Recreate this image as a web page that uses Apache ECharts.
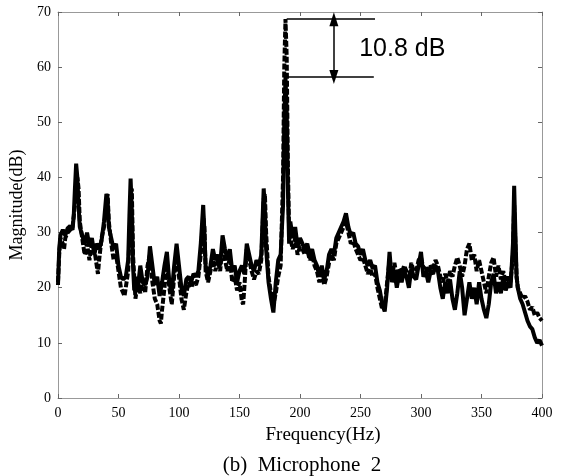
<!DOCTYPE html>
<html style="height: 100%">
<head>
    <meta charset="UTF-8" />
    <title>Microphone 2</title>
    <script src="https://cdn.jsdelivr.net/npm/echarts@6/dist/echarts.min.js"></script>
</head>
<body style="height: 100%; margin: 0; background: #fff">
    <div id="main" style="width: 563px; height: 476px"></div>
    <script type="text/javascript">
        // spectrum readings, [frequency Hz, magnitude dB]
        var solidSpec = [[0,20.5],[1,27],[2,29.5],[4,30.5],[6,29.5],[8,30.8],[10,31.2],[12,30.5],[13,33],[14,38],[15,42.5],[16,40],[17,35],[18,31],[20,29.5],[22,28],[24,30],[26,27.5],[28,29],[30,26],[32,28],[34,27],[36,28.5],[38,32],[40,37],[41,36],[42,31],[44,29],[46,27],[48,28],[50,24],[52,22],[54,21.5],[56,22],[58,25],[59,33],[60,39.8],[61,34],[62,24],[63,19.5],[64,22],[66,20],[68,24],[70,21],[72,20.5],[74,22],[76,27.5],[78,24],[80,20.5],[82,22],[84,18.5],[86,21],[88,24],[90,26.5],[92,21],[94,19],[96,24],[98,28],[100,24],[102,20],[104,18.5],[106,21.5],[108,22],[110,21],[112,22.5],[114,22],[116,23],[118,28],[120,35],[121,30],[122,24],[124,22],[126,24],[128,27],[130,25],[132,26],[134,24],[136,29.5],[138,27],[140,25],[142,27],[144,23],[146,24],[148,21],[150,23],[152,24],[154,22.5],[156,28],[158,26],[160,24],[162,23],[164,25],[166,24],[168,26],[170,38],[171,34],[172,27],[174,21],[176,18],[178,15.5],[180,21],[182,25],[184,26],[186,35],[187,50],[188,58.2],[189,52],[190,38],[191,28],[192,32],[194,29],[196,31],[198,27.5],[200,29],[202,28],[204,27],[206,28],[208,26],[210,27],[212,25],[214,24],[216,22],[218,24],[220,21.5],[222,23],[224,26],[226,27],[228,26],[230,29],[232,30],[234,31],[236,32],[238,33.5],[240,31],[242,29.5],[244,30],[246,28],[248,27.5],[250,26],[252,27],[254,25],[256,24],[258,25],[260,23.5],[262,24],[264,21],[266,19.5],[268,17],[270,15.7],[272,20],[274,26.5],[276,21],[278,23],[280,20],[282,22.5],[284,21],[286,23],[288,22],[290,20],[292,23.5],[294,22],[296,21.5],[298,24],[300,26.5],[302,22],[304,23],[306,21],[308,23],[310,22.5],[312,24],[314,23],[316,20],[318,18],[320,21],[322,19],[324,21.5],[326,18],[328,16],[330,19],[332,23],[334,20],[336,15],[338,18],[340,21],[342,18],[344,20],[346,17],[348,21],[350,18],[352,16],[354,14.5],[356,17],[358,21],[360,22.5],[362,19],[364,21],[366,19],[368,22],[370,19.5],[372,21],[374,20],[376,28],[377,38.5],[378,30],[379,22],[380,20],[382,18],[384,17],[386,15.5],[388,14],[390,13],[392,12.5],[394,11],[396,10],[398,10.5],[400,9.5]];

        var dashedSpec = [[0,21],[1,26],[2,29],[4,28],[5,27],[6,29],[8,30],[10,30.5],[12,31],[14,35],[16,40],[17,38],[18,32],[20,29],[22,26],[24,28],[26,25],[28,28],[30,27],[32,24],[33,22.5],[34,25],[36,29],[38,31],[40,35],[41,37],[42,32],[44,28],[46,25],[48,26],[50,23],[52,20],[54,19],[55,18.5],[56,20],[58,23],[60,35],[61,38],[62,26],[64,18],[66,21],[68,19],[70,22],[72,19],[74,24],[76,26],[78,21],[80,18],[82,17],[84,14],[85,13.5],[86,16],[88,20],[90,25],[92,20],[94,17],[96,22],[98,27],[100,22],[102,18],[104,16],[106,19],[108,21],[110,20],[112,21],[114,20.5],[116,22],[118,26],[120,33],[121,31],[122,23],[124,21],[126,23],[128,25],[130,23],[132,25],[134,23],[136,28],[138,25],[140,23],[142,25.5],[144,21],[146,22],[148,19.5],[150,21],[152,17.5],[153,17],[154,20],[156,27],[158,25],[160,23],[162,21.5],[164,23],[166,22.5],[168,25],[170,36],[171,37],[172,30],[174,22],[176,19],[178,17],[180,19],[182,22],[184,24],[186,40],[187,60],[188,68.7],[189,62],[190,42],[191,30],[192,30],[194,27],[196,29],[198,26],[200,27.5],[202,27],[204,26],[206,27],[208,25],[210,26],[212,24],[214,23],[216,21],[218,22.5],[220,20.5],[222,22],[224,24.5],[226,26],[228,25],[230,28],[232,29],[234,30],[236,31],[238,32],[240,30],[242,28],[244,28.5],[246,27],[248,26],[250,25],[252,25.5],[254,24],[256,22.5],[258,23.5],[260,22],[262,22.5],[264,20],[266,18],[268,16],[270,16.5],[272,21],[274,25],[276,22],[278,24.5],[280,22],[282,23.5],[284,22.5],[286,24],[288,23],[290,21.5],[292,24.5],[294,23],[296,23],[298,25],[300,25.5],[302,23.5],[304,24],[306,22],[308,24],[310,23.5],[312,25],[314,24],[316,22],[318,21],[320,22.5],[322,21],[324,23],[326,22],[328,24],[330,25.5],[332,24],[334,22],[336,24],[338,27],[340,28],[342,25],[344,26],[346,23],[348,25],[350,23],[352,21],[354,19],[356,22],[358,24.5],[360,25.5],[362,22],[364,24],[366,21.5],[368,23],[370,21],[372,22],[374,21],[376,26],[377,35],[378,28],[379,22],[380,20],[382,19],[384,18],[386,18.5],[388,17.5],[390,16],[392,16.5],[394,15],[396,15.5],[398,14.5],[400,14]];

        // peak difference annotation
        var peakHigh = 68.7;
        var peakLow = 58.2;
        var peakLabel = '10.8 dB';

        var chartDom = document.getElementById('main');
        var myChart = echarts.init(chartDom);
        var serif = 'Liberation Serif';

        var tickStyle = { inside: true, length: 4, lineStyle: { color: '#666', width: 1 } };
        var frameLine = { show: true, onZero: false, lineStyle: { color: '#999', width: 1 } };

        var option = {
            animation: false,
            backgroundColor: '#fff',
            title: {
                text: '(b)  Microphone  2',
                left: 297,
                textAlign: 'center',
                top: 450,
                textStyle: { fontFamily: serif, fontSize: 21, fontWeight: 'normal', color: '#000' }
            },
            grid: { left: 58, right: 21, top: 12, bottom: 78 },
            xAxis: [{
                type: 'value', min: 0, max: 400, interval: 50,
                name: 'Frequency(Hz)', nameLocation: 'middle', nameGap: 28,
                nameTextStyle: { fontFamily: serif, fontSize: 19, color: '#000', padding: [0, 0, 0, 46] },
                axisLine: frameLine, axisTick: tickStyle, splitLine: { show: false },
                axisLabel: { fontFamily: serif, fontSize: 14, color: '#000', margin: 8 }
            }, {
                type: 'value', min: 0, max: 400, interval: 50, position: 'top',
                axisLine: frameLine, axisTick: tickStyle, splitLine: { show: false },
                axisLabel: { show: false }
            }],
            yAxis: [{
                type: 'value', min: 0, max: 70, interval: 10,
                name: 'Magnitude(dB)', nameLocation: 'middle', nameGap: 30,
                nameTextStyle: { fontFamily: serif, fontSize: 18, color: '#000' },
                axisLine: frameLine, axisTick: tickStyle, splitLine: { show: false },
                axisLabel: { fontFamily: serif, fontSize: 14, color: '#000', margin: 7 }
            }, {
                type: 'value', min: 0, max: 70, interval: 10, position: 'right',
                axisLine: frameLine, axisTick: tickStyle, splitLine: { show: false },
                axisLabel: { show: false }
            }],
            series: [{
                name: 'dashed',
                type: 'line',
                data: dashedSpec,
                showSymbol: false,
                lineStyle: { color: '#000', width: 4, type: [6, 2] }
            }, {
                name: 'solid',
                type: 'line',
                data: solidSpec,
                showSymbol: false,
                lineStyle: { color: '#000', width: 4 },
                markLine: {
                    silent: true,
                    symbol: 'none',
                    label: { show: false },
                    lineStyle: { color: '#000', width: 1.5, type: 'solid' },
                    data: [
                        [{ coord: [189, peakHigh] }, { coord: [262, peakHigh] }],
                        [{ coord: [187, peakLow] }, { coord: [261, peakLow] }],
                        [{ coord: [228, peakLow], symbol: 'triangle' }, { coord: [228, peakHigh], symbol: 'triangle' }]
                    ],
                    symbolSize: [9, 14]
                },
                markPoint: {
                    silent: true,
                    symbol: 'circle',
                    symbolSize: 1,
                    itemStyle: { color: 'rgba(0,0,0,0)' },
                    data: [{
                        coord: [248.5, 63.3],
                        label: {
                            show: true, formatter: peakLabel, position: 'right', distance: 0,
                            fontFamily: 'Liberation Sans', fontSize: 25, color: '#000'
                        }
                    }]
                }
            }]
        };

        myChart.setOption(option);
    </script>
</body>
</html>
